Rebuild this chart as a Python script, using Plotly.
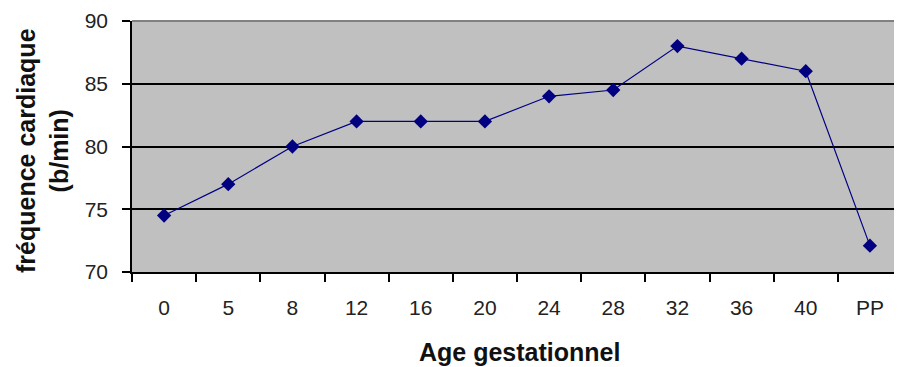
import plotly.graph_objects as go

categories = ["0", "5", "8", "12", "16", "20", "24", "28", "32", "36", "40", "PP"]
heart_rate = [74.5, 77, 80, 82, 82, 82, 84, 84.5, 88, 87, 86, 72.1]
y_ticks = [70, 75, 80, 85, 90]

fig = go.Figure()
fig.add_trace(go.Scatter(
    x=categories, y=heart_rate, mode="lines+markers",
    line=dict(color="#000080", width=1.2),
    marker=dict(symbol="diamond", size=11, color="#000080"),
    showlegend=False,
))

# page body has an 8px margin, so the figure is sized/offset to compensate
fig.update_layout(
    width=894, height=359,
    margin=dict(l=124, r=0, t=13, b=95),
    paper_bgcolor="white", plot_bgcolor="#C0C0C0",
    font=dict(family="Liberation Sans, Arial, sans-serif", color="#222222"),
    xaxis=dict(
        type="category", range=[-0.5, 11.5],
        showgrid=False, showline=True, linecolor="black", linewidth=1.5,
        ticks="outside", tickson="boundaries", ticklen=8, tickcolor="black", tickwidth=1.5,
        tickfont=dict(size=21), ticklabelstandoff=16,
    ),
    yaxis=dict(
        range=[70, 90], tickvals=y_ticks,
        showgrid=True, gridcolor="black", gridwidth=1.5,
        showline=True, linecolor="black", linewidth=1.5,
        ticks="outside", ticklen=8, tickcolor="black", tickwidth=1.5,
        tickfont=dict(size=21), ticklabelstandoff=10, zeroline=False,
    ),
    shapes=[dict(type="line", xref="paper", yref="paper", x0=0, x1=1, y0=1, y1=1,
                 line=dict(color="#808080", width=2), layer="above")],
    annotations=[
        dict(text="<b>fréquence cardiaque<br>(b/min)</b>", textangle=-90,
             xref="paper", yref="paper", x=(42 - 132) / 770, y=(272 - 151) / 251,
             xanchor="center", yanchor="middle", showarrow=False,
             font=dict(size=25, color="#111111")),
        dict(text="<b>Age gestationnel</b>",
             xref="paper", yref="paper", x=(519 - 132) / 770, y=(272 - 352) / 251,
             xanchor="center", yanchor="middle", showarrow=False,
             font=dict(size=25, color="#111111")),
    ],
)

fig.write_html("out.html")
